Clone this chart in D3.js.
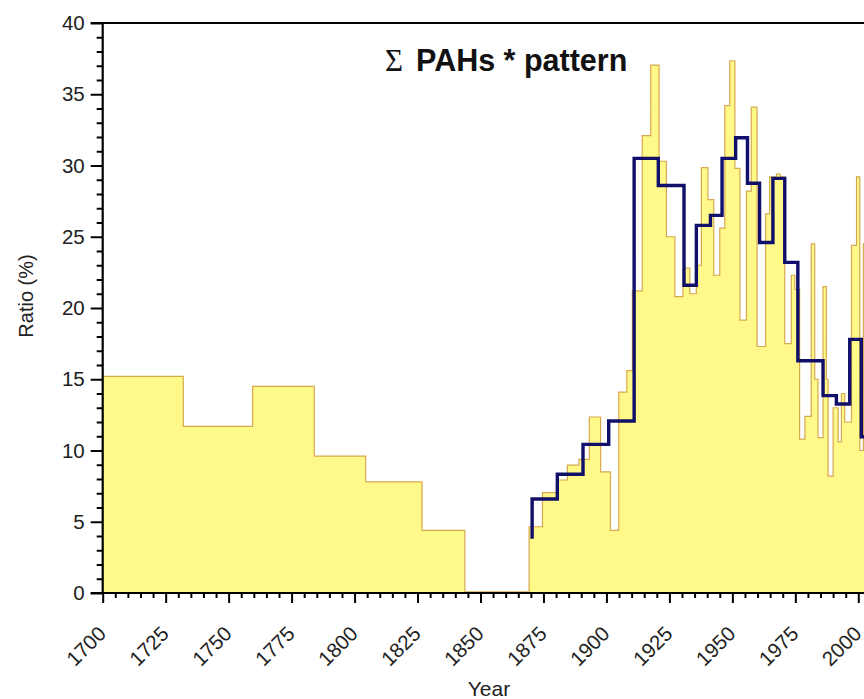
<!DOCTYPE html>
<html>
<head>
<meta charset="utf-8">
<script src="https://cdn.jsdelivr.net/npm/d3@7"></script>
<style>
  html, body { margin: 0; padding: 0; background: #fff; }
  svg { display: block; }
  text { font-family: "Liberation Sans", Arial, Helvetica, sans-serif; }
</style>
</head>
<body>
<div id="chart"></div>
<script>
// ---- Data ----
// Fine-resolution series (yellow area): step starts (year) and value (%)
const yellowYears = [1700, 1732, 1759.5, 1784, 1804.4, 1826.8, 1843.8, 1869.3, 1874.6, 1880.2,
  1884.5, 1889.1, 1893.2, 1897.7, 1901.6, 1904.9, 1908.1, 1910.3, 1914.2, 1917.6,
  1920.9, 1923.8, 1927.2, 1930.4, 1933.1, 1935.7, 1937.7, 1940.3, 1942.6, 1945,
  1947, 1949, 1951, 1953, 1955.6, 1957.5, 1959.8, 1963.2, 1964.8, 1967.5,
  1969, 1970.8, 1973.4, 1974.8, 1976.7, 1978.8, 1981.3, 1982.7, 1984, 1986,
  1987.3, 1988, 1990, 1992, 1993.3, 1994.6, 1997.3, 1999.3, 2000.6, 2002];
const yellowValues = [15.2, 11.7, 14.5, 9.6, 7.8, 4.4, 0.08, 4.65, 7.04, 7.93,
  8.98, 9.38, 12.35, 8.5, 4.4, 14.1, 15.6, 21.2, 32.1, 37.05,
  30.3, 25.0, 20.8, 22.8, 21.0, 23.0, 29.85, 27.6, 22.3, 25.6,
  34.2, 37.35, 29.8, 19.15, 28.2, 34.1, 17.3, 26.6, 29.2, 29.4,
  29.2, 17.5, 22.3, 21.3, 10.8, 12.4, 24.5, 15.0, 10.9, 21.5,
  15.0, 8.2, 13.0, 10.6, 14.0, 12.0, 24.4, 29.2, 10.0, 24.5];
const yellowEnd = 2006;

// Coarse series (navy step line)
const navyStartValue = 3.8;
const navyYears = [1870.5, 1880.5, 1890.7, 1900.9, 1911, 1920.6, 1930.8, 1935.7, 1941.3, 1945.9,
  1951.3, 1956, 1960.8, 1966.1, 1970.8, 1976, 1986, 1991.3, 1996.6, 2001.2];
const navyValues = [6.6, 8.33, 10.43, 12.07, 30.5, 28.6, 21.6, 25.8, 26.5, 30.5,
  31.95, 28.75, 24.6, 29.1, 23.2, 16.3, 13.85, 13.26, 17.8, 10.97];
const navyEnd = 2006;

const xMajorTicks = [1700, 1725, 1750, 1775, 1800, 1825, 1850, 1875, 1900, 1925, 1950, 1975, 2000];
const yMajorTicks = [0, 5, 10, 15, 20, 25, 30, 35, 40];

const titleSymbol = "\u03A3";
const titleText = "PAHs * pattern";
const xTitle = "Year";
const yTitle = "Ratio (%)";

// ---- Layout ----
const W = 864, H = 699;
const x = d3.scaleLinear().domain([1700, 2000]).range([102.7, 858.3]);
const y = d3.scaleLinear().domain([0, 40]).range([593, 23]);

const svg = d3.select("#chart").append("svg").attr("width", W).attr("height", H);

svg.append("defs").append("clipPath").attr("id", "plotclip")
  .append("rect").attr("x", x(1700)).attr("y", y(40) - 2)
  .attr("width", W - x(1700)).attr("height", y(0) - y(40) + 2);

const plot = svg.append("g").attr("clip-path", "url(#plotclip)");

// yellow step series
const ySeries = yellowYears.map((yr, i) => ({ year: yr, v: yellowValues[i] }));
ySeries.push({ year: yellowEnd, v: yellowValues[yellowValues.length - 1] });

const area = d3.area().curve(d3.curveStepAfter)
  .x(d => x(d.year)).y0(y(0)).y1(d => y(d.v));
plot.append("path").datum(ySeries)
  .attr("d", area)
  .attr("fill", "#fff98a");

const outline = d3.line().curve(d3.curveStepAfter).x(d => x(d.year)).y(d => y(d.v));
plot.append("path").datum(ySeries)
  .attr("d", outline)
  .attr("fill", "none")
  .attr("stroke", "#d6a94e")
  .attr("stroke-width", 1.2);

// navy step line
const nSeries = [{ year: navyYears[0], v: navyStartValue }]
  .concat(navyYears.map((yr, i) => ({ year: yr, v: navyValues[i] })));
nSeries.push({ year: navyEnd, v: navyValues[navyValues.length - 1] });
plot.append("path").datum(nSeries)
  .attr("d", d3.line().curve(d3.curveStepAfter).x(d => x(d.year)).y(d => y(d.v)))
  .attr("fill", "none")
  .attr("stroke", "#10106a")
  .attr("stroke-width", 3.4)
  .attr("stroke-linejoin", "miter");

// ---- Axes ----
const fontSize = 20.5;
// Y axis
const yMinor = d3.range(0, 41, 1).filter(v => v % 5 !== 0);
const yAxisMajor = d3.axisLeft(y).tickValues(yMajorTicks).tickSize(12).tickPadding(6);
const yAxisMinor = d3.axisLeft(y).tickValues(yMinor).tickSize(6).tickFormat("");
const gy = svg.append("g").attr("transform", `translate(${x(1700)},0)`);
gy.call(yAxisMajor);
gy.append("g").call(yAxisMinor);
gy.selectAll(".domain").remove();
gy.selectAll("line").attr("stroke", "#000").attr("stroke-width", 2);
gy.selectAll("text").attr("font-size", fontSize).attr("fill", "#222")
  .style("font-family", "'Liberation Sans', Arial, sans-serif");

// X axis
const xMinor = d3.range(1700, 2006, 5).filter(v => v % 25 !== 0);
const xAxisMajor = d3.axisBottom(x).tickValues(xMajorTicks).tickSize(10).tickFormat(d3.format("d"));
const xAxisMinor = d3.axisBottom(x).tickValues(xMinor).tickSize(5).tickFormat("");
const gx = svg.append("g").attr("transform", `translate(0,${y(0)})`);
gx.call(xAxisMajor);
gx.append("g").call(xAxisMinor);
gx.selectAll(".domain").remove();
gx.selectAll("line").attr("stroke", "#000").attr("stroke-width", 2);
gx.selectAll(".tick text")
  .attr("font-size", fontSize).attr("fill", "#222")
  .style("font-family", "'Liberation Sans', Arial, sans-serif")
  .attr("text-anchor", "end")
  .attr("y", 0)
  .attr("dy", "0")
  .attr("transform", "translate(4,42) rotate(-45)");

// axis lines
svg.append("line").attr("x1", x(1700)).attr("x2", x(1700)).attr("y1", y(40)).attr("y2", y(0) + 1)
  .attr("stroke", "#000").attr("stroke-width", 2.2);
svg.append("line").attr("x1", x(1700) - 12).attr("x2", W).attr("y1", y(0)).attr("y2", y(0))
  .attr("stroke", "#000").attr("stroke-width", 2.2);
svg.append("line").attr("x1", x(1700) - 12).attr("x2", W).attr("y1", y(40)).attr("y2", y(40))
  .attr("stroke", "#000").attr("stroke-width", 2.2);

// titles
svg.append("text").attr("transform", `translate(33,${(y(0) + y(40)) / 2 - 12}) rotate(-90)`)
  .attr("text-anchor", "middle").attr("font-size", 20).attr("fill", "#222").text(yTitle);
svg.append("text").attr("x", 489).attr("y", 696)
  .attr("text-anchor", "middle").attr("font-size", 21).attr("fill", "#222").text(xTitle);

const t = svg.append("text").attr("x", 385).attr("y", 71).attr("font-size", 30.5).attr("fill", "#111");
t.append("tspan").style("font-family", "'Liberation Serif', 'DejaVu Serif', serif").attr("font-size", 31).text(titleSymbol);
t.append("tspan").attr("dx", 13).attr("font-weight", "bold").text(titleText);
</script>
</body>
</html>
